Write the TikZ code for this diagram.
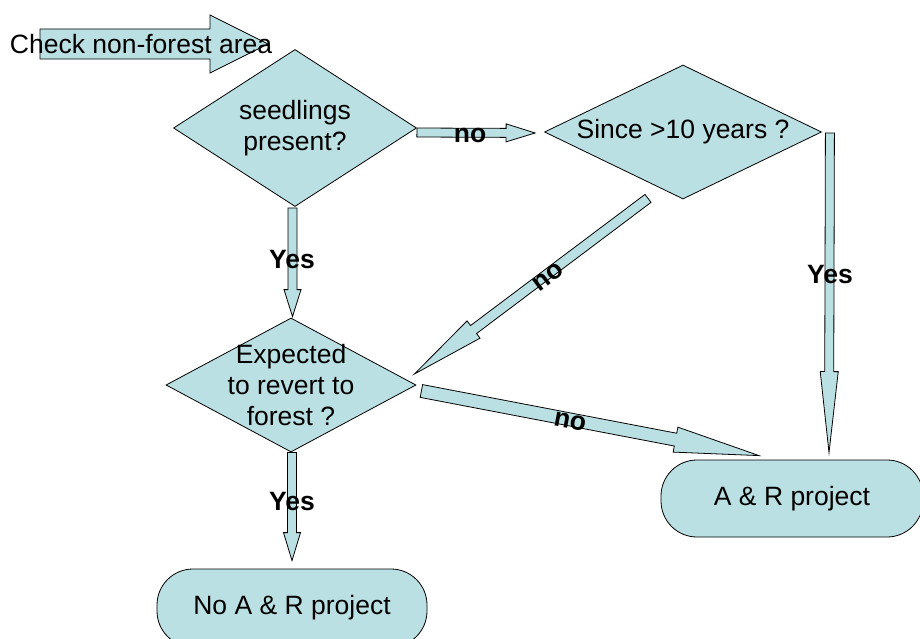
\documentclass[tikz,border=0pt]{standalone}
\usepackage{fontspec}
\setmainfont{Liberation Sans}
\usetikzlibrary{shapes.geometric,calc}
\definecolor{boxfill}{RGB}{187,224,227}

\newcommand{\blockarrow}[5]{%
  \path #1 coordinate (ba) #2 coordinate (bb);
  \coordinate (bh) at ($(bb)!#5pt!(ba)$);
  \filldraw [fill=boxfill,draw=black,line width=0.8pt]
    ($(ba)!#3pt!90:(bb)$) -- ($(bh)!#3pt!90:(bb)$) -- ($(bh)!#4pt!90:(bb)$) -- (bb)
    -- ($(bh)!#4pt!-90:(bb)$) -- ($(bh)!#3pt!-90:(bb)$) -- ($(ba)!#3pt!-90:(bb)$) -- cycle;
}

\begin{document}
\begin{tikzpicture}[x=1pt,y=-1pt]
            \tikzstyle{every node}+=[inner sep=0pt,font=\fontsize{26.5}{31}\selectfont]
            \tikzstyle{decision}=[diamond,draw=black,fill=boxfill,line width=0.8pt,aspect=2,inner xsep=0pt,inner ysep=-14pt,align=center]
            \tikzstyle{terminal}=[rectangle,draw=black,fill=boxfill,line width=0.8pt,rounded corners=36pt]
            \tikzstyle{lbl}=[font=\fontsize{26.5}{31}\selectfont\bfseries]
            \useasboundingbox (0,0) rectangle (920,639);
            \node [decision,minimum width=243pt,minimum height=157pt] (seed) at (295,128) {seedlings\\present?};
            \node [decision,minimum width=277pt,minimum height=134pt] (since) at (683,132) {Since >10 years ?};
            \node [decision,minimum width=250pt,minimum height=134pt] (revert) at (291,385) {Expected\\to revert to\\forest ?};
            \node [terminal,minimum width=262pt,minimum height=77pt] (ar) at (792,498.5) {A \& R project};
            \node [terminal,minimum width=270pt,minimum height=78pt] (noar) at (292,608) {No A \& R project};
            \coordinate (cstart) at (40,44);
            \coordinate (ctip) at (268,44);
            \blockarrow{(cstart)}{(ctip)}{15}{29}{58}
            \node (check) at (141,44) {Check non-forest area};
            \blockarrow{($(seed.east)+(0,4.5)$)}{($(since.west)+(-9,1)$)}{4.5}{9}{29}
            \blockarrow{($(seed.south)+(-2.5,1)$)}{($(revert.north)+(1.5,-1)$)}{4.5}{8.5}{27}
            \blockarrow{($(since.east)+(8,1)$)}{($(ar.north)+(37,-7)$)}{4.5}{9}{81}
            \blockarrow{($(since.south)+(-35,-1)$)}{($(revert.east)+(-2,-11)$)}{5}{10.8}{74}
            \blockarrow{($(revert.east)+(5,6)$)}{($(ar.north)+(-33,-4)$)}{6.5}{12.7}{85}
            \blockarrow{($(revert.south)+(1,0)$)}{($(noar.north)+(0,-8)$)}{4.5}{8.5}{28}
            \node [lbl] (no1) at (470,135) {no};
            \node [lbl] (yes1) at (292,260) {Yes};
            \node [lbl] (yes2) at (830,275) {Yes};
            \node [lbl,rotate=37] (no2) at (548,277) {no};
            \node [lbl,rotate=-11] (no3) at (570,422) {no};
            \node [lbl] (yes3) at (292,502) {Yes};
\end{tikzpicture}
\end{document}
